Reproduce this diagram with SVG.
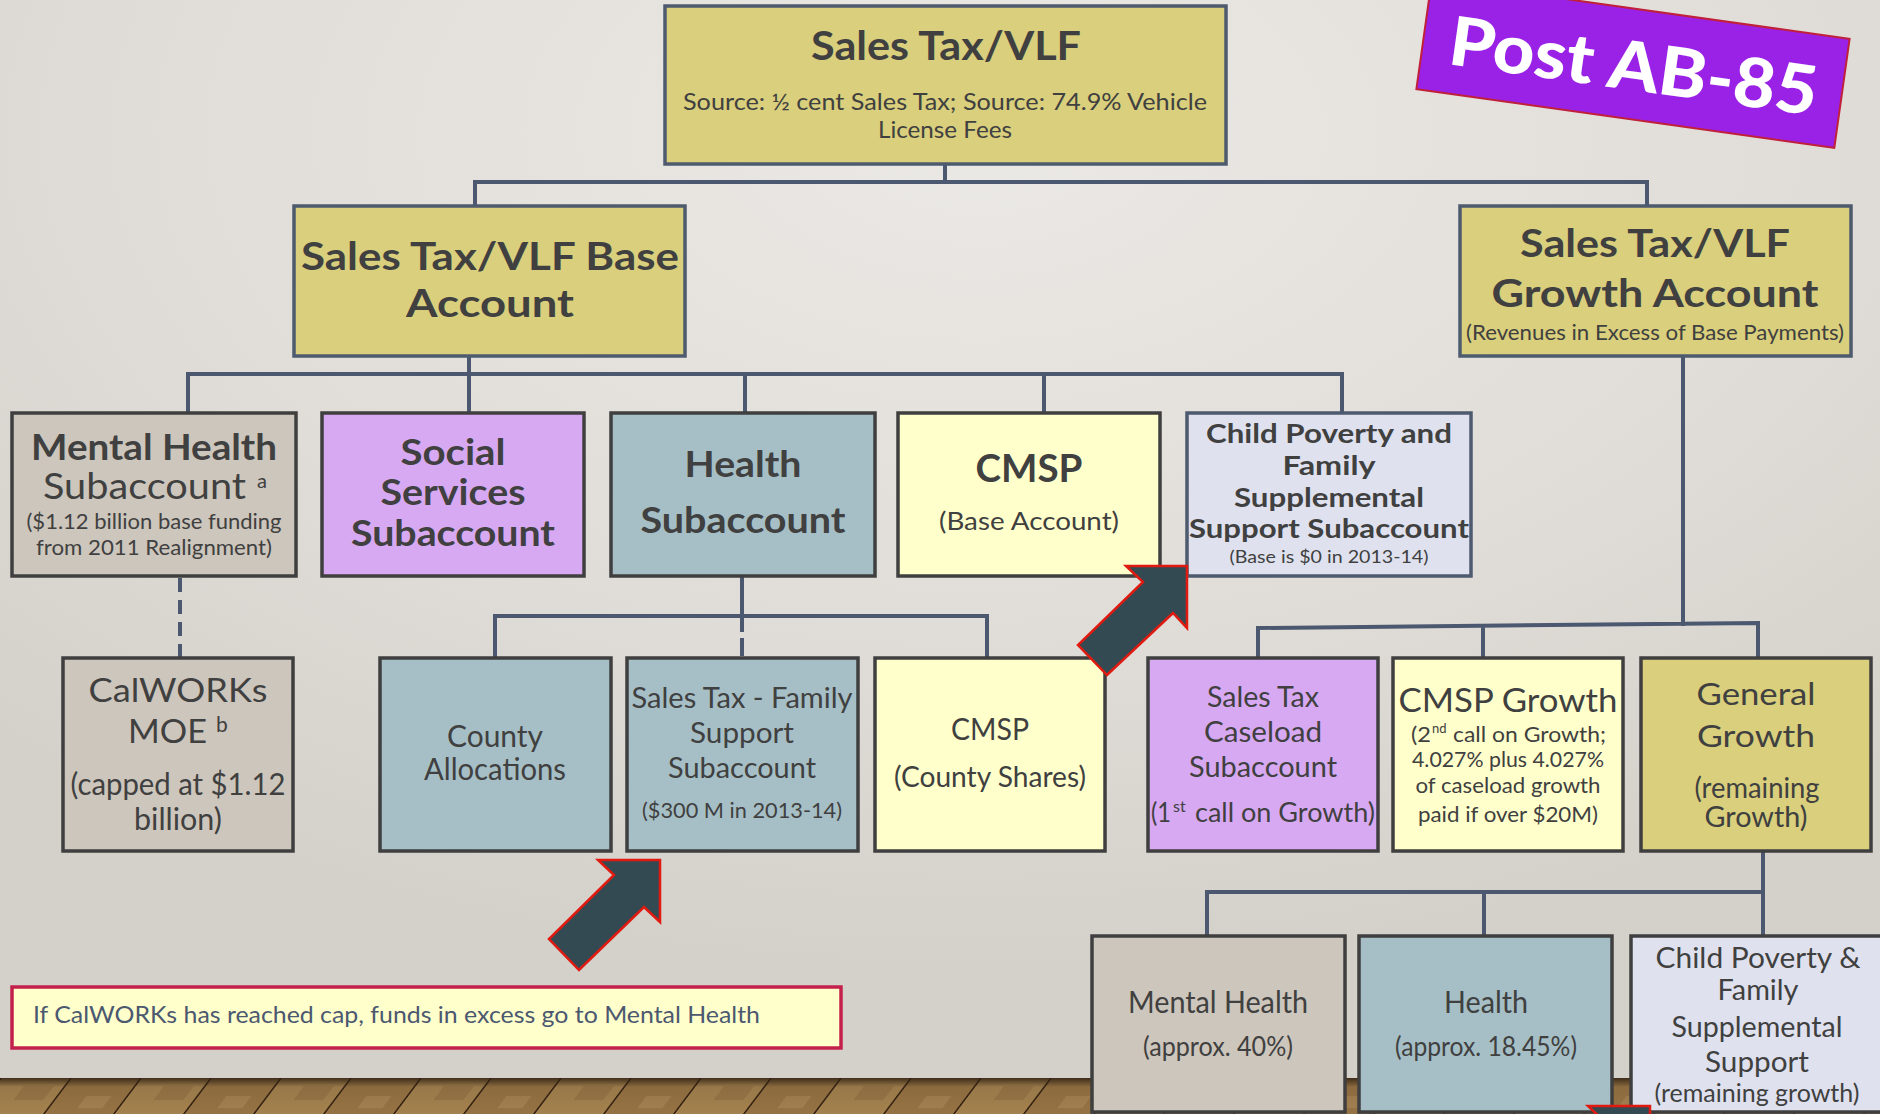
<svg xmlns="http://www.w3.org/2000/svg" width="1880" height="1114" viewBox="0 0 1880 1114">
<defs>
<radialGradient id="wall" cx="0.52" cy="0.12" r="0.75">
<stop offset="0" stop-color="#ebe9e5"/>
<stop offset="0.6" stop-color="#e0ddd8"/>
<stop offset="1" stop-color="#d4d0ca"/>
</radialGradient>
<linearGradient id="floorShade" x1="0" y1="0" x2="0" y2="1">
<stop offset="0" stop-color="#2e2012" stop-opacity="0.85"/>
<stop offset="0.25" stop-color="#2e2012" stop-opacity="0.1"/>
<stop offset="1" stop-color="#2e2012" stop-opacity="0"/>
</linearGradient>
<pattern id="wood" width="140" height="40" patternUnits="userSpaceOnUse" patternTransform="translate(0,1078) skewX(-37)">
<rect width="140" height="40" fill="#9c7a4c"/>
<rect x="2" width="68" height="40" fill="#a4824f"/>
<rect x="72" width="68" height="40" fill="#967344"/>
<rect x="30" y="8" width="30" height="14" fill="#8a6a40" opacity="0.5"/>
<rect x="100" y="18" width="25" height="12" fill="#b08e5c" opacity="0.5"/>
<rect x="0" width="2" height="40" fill="#3a2614"/>
<rect x="70" width="2" height="40" fill="#3a2614"/>
</pattern>
<style>
.t{font-family:Lato,"Open Sans","DejaVu Sans",sans-serif;fill:#404040;text-anchor:middle}
.bd{font-weight:700}
.rg{font-weight:400}
.st{font-family:Lato,"Open Sans","DejaVu Sans",sans-serif;fill:#404040;text-anchor:start;font-weight:400}
.box{stroke:#3f3f3f;stroke-width:3.5}
.sbox{stroke:#4e5a6e;stroke-width:3.5}
.olive{fill:#d9cf7c}
.lyel{fill:#ffffcc}
.greige{fill:#cdc6bc}
.purp{fill:#d7a9f2}
.blue{fill:#a6bfc6}
.lav{fill:#dfe2ee}
.con{stroke:#4b5870;stroke-width:4;fill:none}
.dash{stroke:#4b5870;stroke-width:4;fill:none;stroke-dasharray:14 8}
.arrow{fill:#344a52;stroke:#e01a10;stroke-width:2.5;stroke-linejoin:miter}
</style>
</defs>

<rect width="1880" height="1114" fill="url(#wall)"/>
<rect y="1078" width="1880" height="36" fill="url(#wood)"/>
<rect y="1078" width="1880" height="36" fill="url(#floorShade)"/>

<g id="connectors">
<path class="con" d="M945,164 V182 M475,206 V182 H1647 V206"/>
<path class="con" d="M469,356 V374 M188,413 V374 H1342 V413 M469,374 V413 M745,374 V413 M1044,374 V413"/>
<path class="con" d="M1683,356 V626 M1258,657 V628 L1758,623 V657 M1483,626 V657"/>
<path class="con" d="M742,576 V632 M495,658 V616 H987 V658"/>
<path class="con" d="M742,638 V656"/>
<path class="dash" d="M180,578 V657"/>
<path class="con" d="M1763,851 V936 M1207,936 V892 H1763 M1484,892 V936"/>
</g>

<g id="post-ab85" transform="translate(1633,64) rotate(8)">
<rect x="-211" y="-55" width="422" height="110" fill="#9a22e6" stroke="#c0203a" stroke-width="2"/>
<text x="1" y="26" font-family="Lato,'Open Sans',sans-serif" font-weight="900" font-size="68" fill="#ffffff" text-anchor="middle" textLength="371" lengthAdjust="spacingAndGlyphs">Post AB-85</text>
</g>

<g id="sales-tax-vlf">
<rect class="sbox olive" x="665" y="6" width="561" height="158"/>
<text class="t bd" x="946" y="60" font-size="40" textLength="270" lengthAdjust="spacingAndGlyphs">Sales Tax/VLF</text>
<text class="t rg" x="945" y="110" font-size="24" textLength="524" lengthAdjust="spacingAndGlyphs">Source: ½ cent Sales Tax; Source: 74.9% Vehicle</text>
<text class="t rg" x="945" y="138" font-size="24" textLength="134" lengthAdjust="spacingAndGlyphs">License Fees</text>
</g>

<g id="base-account">
<rect class="sbox olive" x="294" y="206" width="391" height="150"/>
<text class="t bd" x="490" y="270" font-size="39" textLength="378" lengthAdjust="spacingAndGlyphs">Sales Tax/VLF Base</text>
<text class="t bd" x="490" y="317" font-size="39" textLength="168" lengthAdjust="spacingAndGlyphs">Account</text>
</g>

<g id="growth-account">
<rect class="sbox olive" x="1460" y="206" width="391" height="150"/>
<text class="t bd" x="1655" y="257" font-size="39" textLength="270" lengthAdjust="spacingAndGlyphs">Sales Tax/VLF</text>
<text class="t bd" x="1655" y="307" font-size="39" textLength="327" lengthAdjust="spacingAndGlyphs">Growth Account</text>
<text class="t rg" x="1655" y="340" font-size="22" textLength="378" lengthAdjust="spacingAndGlyphs">(Revenues in Excess of Base Payments)</text>
</g>

<g id="mental-health-subaccount">
<rect class="box greige" x="12" y="413" width="284" height="163"/>
<text class="t bd" x="154" y="460" font-size="36" textLength="246" lengthAdjust="spacingAndGlyphs">Mental Health</text>
<text class="st" x="43" y="499" font-size="36" font-weight="700" textLength="203" lengthAdjust="spacingAndGlyphs">Subaccount</text>
<text class="st" x="257" y="488" font-size="20">a</text>
<text class="t rg" x="154" y="529" font-size="22" textLength="255" lengthAdjust="spacingAndGlyphs">($1.12 billion base funding</text>
<text class="t rg" x="154" y="555" font-size="22" textLength="236" lengthAdjust="spacingAndGlyphs">from 2011 Realignment)</text>
</g>

<g id="social-services-subaccount">
<rect class="box purp" x="322" y="413" width="262" height="163"/>
<text class="t bd" x="453" y="465" font-size="36" textLength="105" lengthAdjust="spacingAndGlyphs">Social</text>
<text class="t bd" x="453" y="505" font-size="36" textLength="145" lengthAdjust="spacingAndGlyphs">Services</text>
<text class="t bd" x="453" y="546" font-size="36" textLength="204" lengthAdjust="spacingAndGlyphs">Subaccount</text>
</g>

<g id="health-subaccount">
<rect class="box blue" x="611" y="413" width="264" height="163"/>
<text class="t bd" x="743" y="477" font-size="37" textLength="117" lengthAdjust="spacingAndGlyphs">Health</text>
<text class="t bd" x="743" y="533" font-size="37" textLength="205" lengthAdjust="spacingAndGlyphs">Subaccount</text>
</g>

<g id="cmsp-base">
<rect class="box lyel" x="898" y="413" width="262" height="163"/>
<text class="t bd" x="1029" y="482" font-size="38" textLength="107" lengthAdjust="spacingAndGlyphs">CMSP</text>
<text class="t rg" x="1029" y="530" font-size="25" textLength="180" lengthAdjust="spacingAndGlyphs">(Base Account)</text>
</g>

<g id="child-poverty-subaccount">
<rect class="sbox lav" x="1187" y="413" width="284" height="163"/>
<text class="t bd" x="1329" y="443" font-size="26" textLength="246" lengthAdjust="spacingAndGlyphs">Child Poverty and</text>
<text class="t bd" x="1329" y="475" font-size="26" textLength="93" lengthAdjust="spacingAndGlyphs">Family</text>
<text class="t bd" x="1329" y="507" font-size="26" textLength="190" lengthAdjust="spacingAndGlyphs">Supplemental</text>
<text class="t bd" x="1329" y="538" font-size="26" textLength="280" lengthAdjust="spacingAndGlyphs">Support Subaccount</text>
<text class="t rg" x="1329" y="563" font-size="18" textLength="199" lengthAdjust="spacingAndGlyphs">(Base is $0 in 2013-14)</text>
</g>

<g id="calworks-moe">
<rect class="box greige" x="63" y="658" width="230" height="193"/>
<text class="t rg" x="178" y="702" font-size="32" textLength="179" lengthAdjust="spacingAndGlyphs">CalWORKs</text>
<text class="st" x="128" y="743" font-size="32" textLength="79" lengthAdjust="spacingAndGlyphs">MOE</text>
<text class="st" x="216" y="732" font-size="21">b</text>
<text class="t rg" x="178" y="795" font-size="30" textLength="215" lengthAdjust="spacingAndGlyphs">(capped at $1.12</text>
<text class="t rg" x="178" y="830" font-size="30" textLength="88" lengthAdjust="spacingAndGlyphs">billion)</text>
</g>

<g id="county-allocations">
<rect class="box blue" x="380" y="658" width="231" height="193"/>
<text class="t rg" x="495" y="747" font-size="30" textLength="96" lengthAdjust="spacingAndGlyphs">County</text>
<text class="t rg" x="495" y="780" font-size="30" textLength="142" lengthAdjust="spacingAndGlyphs">Allocations</text>
</g>

<g id="family-support-subaccount">
<rect class="box blue" x="627" y="658" width="231" height="193"/>
<text class="t rg" x="742" y="708" font-size="29" textLength="221" lengthAdjust="spacingAndGlyphs">Sales Tax - Family</text>
<text class="t rg" x="742" y="743" font-size="29" textLength="104" lengthAdjust="spacingAndGlyphs">Support</text>
<text class="t rg" x="742" y="778" font-size="29" textLength="148" lengthAdjust="spacingAndGlyphs">Subaccount</text>
<text class="t rg" x="742" y="818" font-size="22" textLength="200" lengthAdjust="spacingAndGlyphs">($300 M in 2013-14)</text>
</g>

<g id="cmsp-county-shares">
<rect class="box lyel" x="875" y="658" width="230" height="193"/>
<text class="t rg" x="990" y="740" font-size="30" textLength="78" lengthAdjust="spacingAndGlyphs">CMSP</text>
<text class="t rg" x="990" y="787" font-size="28" textLength="192" lengthAdjust="spacingAndGlyphs">(County Shares)</text>
</g>

<g id="caseload-subaccount">
<rect class="box purp" x="1148" y="658" width="230" height="193"/>
<text class="t rg" x="1263" y="707" font-size="29" textLength="112" lengthAdjust="spacingAndGlyphs">Sales Tax</text>
<text class="t rg" x="1263" y="742" font-size="29" textLength="118" lengthAdjust="spacingAndGlyphs">Caseload</text>
<text class="t rg" x="1263" y="777" font-size="29" textLength="148" lengthAdjust="spacingAndGlyphs">Subaccount</text>
<text class="st" x="1151" y="822" font-size="27" textLength="20" lengthAdjust="spacingAndGlyphs">(1</text>
<text class="st" x="1173" y="812" font-size="16">st</text>
<text class="st" x="1195" y="822" font-size="27" textLength="180" lengthAdjust="spacingAndGlyphs">call on Growth)</text>
</g>

<g id="cmsp-growth">
<rect class="box lyel" x="1393" y="658" width="230" height="193"/>
<text class="t rg" x="1508" y="712" font-size="32" textLength="219" lengthAdjust="spacingAndGlyphs">CMSP Growth</text>
<text class="st" x="1411" y="742" font-size="22" textLength="20" lengthAdjust="spacingAndGlyphs">(2</text>
<text class="st" x="1432" y="733" font-size="13">nd</text>
<text class="st" x="1453" y="742" font-size="22" textLength="153" lengthAdjust="spacingAndGlyphs">call on Growth;</text>
<text class="t rg" x="1508" y="767" font-size="22" textLength="192" lengthAdjust="spacingAndGlyphs">4.027% plus 4.027%</text>
<text class="t rg" x="1508" y="793" font-size="22" textLength="185" lengthAdjust="spacingAndGlyphs">of caseload growth</text>
<text class="t rg" x="1508" y="822" font-size="22" textLength="180" lengthAdjust="spacingAndGlyphs">paid if over $20M)</text>
</g>

<g id="general-growth">
<rect class="box olive" x="1641" y="658" width="230" height="193"/>
<text class="t rg" x="1756" y="705" font-size="31" textLength="119" lengthAdjust="spacingAndGlyphs">General</text>
<text class="t rg" x="1756" y="747" font-size="31" textLength="118" lengthAdjust="spacingAndGlyphs">Growth</text>
<text class="t rg" x="1757" y="798" font-size="28" textLength="125" lengthAdjust="spacingAndGlyphs">(remaining</text>
<text class="t rg" x="1756" y="827" font-size="28" textLength="103" lengthAdjust="spacingAndGlyphs">Growth)</text>
</g>

<g id="growth-mental-health">
<rect class="box greige" x="1092" y="936" width="253" height="176"/>
<text class="t rg" x="1218" y="1013" font-size="30" textLength="180" lengthAdjust="spacingAndGlyphs">Mental Health</text>
<text class="t rg" x="1218" y="1056" font-size="26" textLength="150" lengthAdjust="spacingAndGlyphs">(approx. 40%)</text>
</g>

<g id="growth-health">
<rect class="box blue" x="1359" y="936" width="253" height="176"/>
<text class="t rg" x="1486" y="1013" font-size="30" textLength="84" lengthAdjust="spacingAndGlyphs">Health</text>
<text class="t rg" x="1486" y="1056" font-size="26" textLength="182" lengthAdjust="spacingAndGlyphs">(approx. 18.45%)</text>
</g>

<g id="growth-child-poverty">
<rect class="box lav" x="1631" y="936" width="262" height="176"/>
<text class="t rg" x="1758" y="968" font-size="29" textLength="205" lengthAdjust="spacingAndGlyphs">Child Poverty &amp;</text>
<text class="t rg" x="1758" y="1000" font-size="29" textLength="81" lengthAdjust="spacingAndGlyphs">Family</text>
<text class="t rg" x="1757" y="1037" font-size="29" textLength="171" lengthAdjust="spacingAndGlyphs">Supplemental</text>
<text class="t rg" x="1757" y="1072" font-size="29" textLength="104" lengthAdjust="spacingAndGlyphs">Support</text>
<text class="t rg" x="1757" y="1102" font-size="25" textLength="205" lengthAdjust="spacingAndGlyphs">(remaining growth)</text>
</g>

<g id="note">
<rect x="12" y="987" width="829" height="61" fill="#ffffcc" stroke="#c4204c" stroke-width="3.5"/>
<text x="33" y="1023" font-family="Lato,'Open Sans',sans-serif" font-size="23" fill="#4b5870" textLength="727" lengthAdjust="spacingAndGlyphs">If CalWORKs has reached cap, funds in excess go to Mental Health</text>
</g>

<g id="arrows">
<polygon class="arrow" points="598,860 660,860 660,922 644,907 579,970 549,939 614,875"/>
<polygon class="arrow" points="1126,566 1187,566 1187,628 1173,613 1107,675 1078,645 1143,582"/>
<polygon class="arrow" points="1588,1106 1650,1106 1650,1168 1634,1153 1569,1216 1539,1185 1604,1121"/>
</g>
</svg>
